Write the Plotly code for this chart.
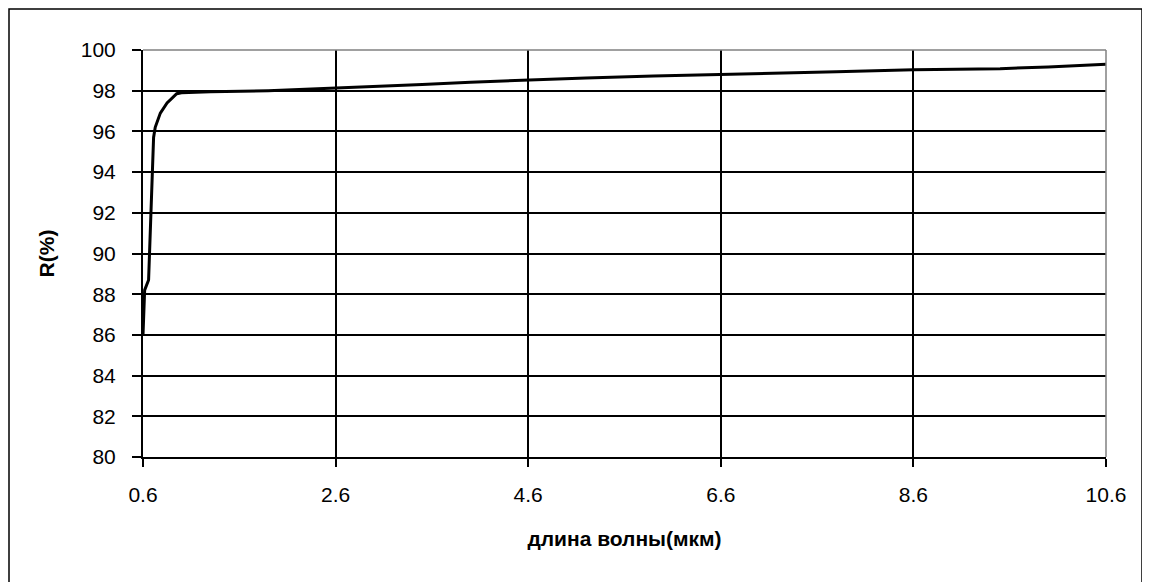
import plotly.graph_objects as go

# wavelength (um) and reflectance R (%)
wavelength = [0.6, 0.617, 0.658, 0.676, 0.693, 0.71, 0.727, 0.78, 0.85, 0.95, 1.0,
              1.3, 1.9, 2.5, 3.0, 3.5, 4.0, 4.6, 5.2, 5.9, 6.9, 7.8, 8.6, 9.5, 10.0, 10.6]
reflectance = [86.0, 88.2, 88.7, 91.3, 93.6, 95.7, 96.2, 96.9, 97.4, 97.85, 97.9,
               97.95, 98.0, 98.1, 98.2, 98.3, 98.42, 98.53, 98.62, 98.72, 98.82, 98.93,
               99.03, 99.08, 99.17, 99.3]

x_ticks = [0.6, 2.6, 4.6, 6.6, 8.6, 10.6]
y_ticks = [80, 82, 84, 86, 88, 90, 92, 94, 96, 98, 100]

fig = go.Figure()
fig.add_trace(go.Scatter(x=wavelength, y=reflectance, mode="lines",
                         line=dict(color="black", width=3), showlegend=False))

font = dict(family="Arial, Liberation Sans, sans-serif", size=21, color="black")

# page has an 8px body offset; plot area target (page) 143..1106 x 50..457
L, R, T, B = 135, 1098, 42, 449
W, H = 1150, 582
pw, ph = R - L, B - T

fig.update_layout(
    width=W, height=H,
    margin=dict(l=L, r=W - R, t=T, b=H - B),
    paper_bgcolor="white", plot_bgcolor="white",
    font=font,
    xaxis=dict(range=[0.6, 10.6], tickvals=x_ticks, ticktext=[str(v) for v in x_ticks],
               showgrid=True, gridcolor="black", gridwidth=1.5,
               showline=True, linecolor="black", linewidth=2,
               ticks="outside", ticklen=8, tickwidth=1.5, tickcolor="black",
               ticklabelstandoff=10, zeroline=False,
               title=dict(text="<b>длина волны(мкм)</b>", font=dict(size=21), standoff=26)),
    yaxis=dict(range=[80, 100], tickvals=y_ticks,
               showgrid=True, gridcolor="black", gridwidth=1.5,
               showline=True, linecolor="black", linewidth=2,
               ticks="outside", ticklen=9, tickwidth=1.5, tickcolor="black",
               ticklabelstandoff=12, zeroline=False,
               title=dict(text="<b>R(%)</b>", font=dict(size=21), standoff=20)),
    shapes=[
        # gray plot-area border on top/right
        dict(type="line", xref="paper", yref="paper", x0=0, x1=1, y0=1, y1=1,
             line=dict(color="#808080", width=1.5), layer="above"),
        dict(type="line", xref="paper", yref="paper", x0=1, x1=1, y0=0, y1=1,
             line=dict(color="#808080", width=1.5), layer="above"),
        # outer chart frame
        dict(type="rect", xref="paper", yref="paper",
             x0=(1 - L) / pw, x1=(1134 - L) / pw,
             y0=(B - 600) / ph, y1=(B - 1) / ph,
             line=dict(color="black", width=1.5), fillcolor="rgba(0,0,0,0)"),
    ],
)

fig.write_html("out.html")
